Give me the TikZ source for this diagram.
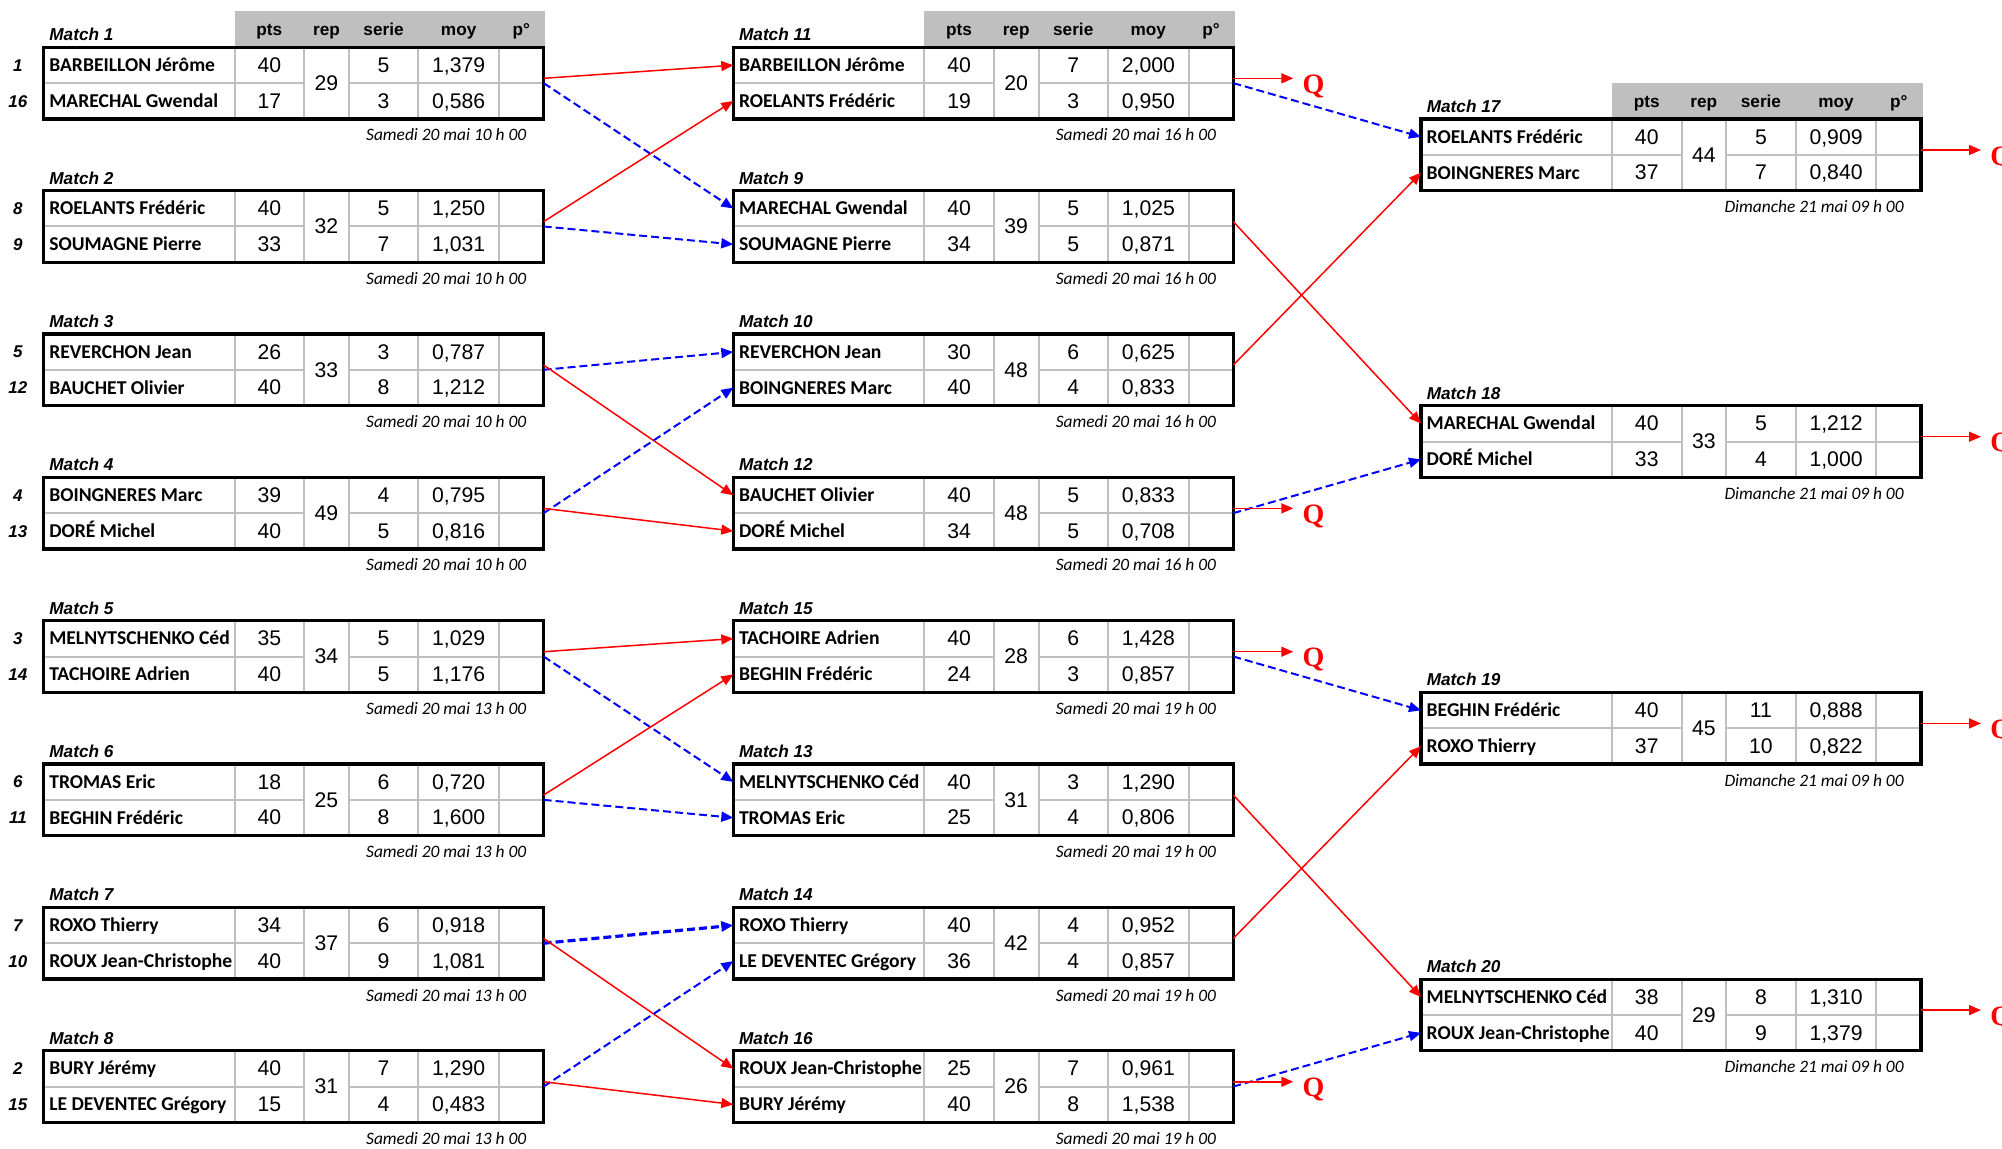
\documentclass[tikz,border=0pt]{standalone}
\usepackage{fontspec}
\setmainfont{Liberation Sans}
\newfontfamily\namefont{Carlito}
\newfontfamily\qfont{Liberation Serif}
\usetikzlibrary{arrows.meta,positioning}

\definecolor{gridgrey}{HTML}{BFBFBF}

\tikzset{
	box/.style={line width=1.6pt},
	grid/.style={gridgrey, line width=1pt},
	cell/.style={anchor=base, inner sep=0pt, font=\fontsize{10.6}{12}\selectfont},
	namecell/.style={anchor=base west, inner sep=0pt, font=\namefont\bfseries\fontsize{9.8}{12}\selectfont},
	headlabel/.style={anchor=base, inner sep=0pt, font=\bfseries\fontsize{8.6}{10}\selectfont},
	matchlabel/.style={anchor=base west, inner sep=0pt, font=\bfseries\itshape\fontsize{8.6}{10}\selectfont},
	seed/.style={anchor=base, inner sep=0pt, font=\bfseries\itshape\fontsize{8.5}{10}\selectfont},
	datelabel/.style={anchor=base east, inner sep=0pt, font=\namefont\itshape\fontsize{8.7}{10}\selectfont},
	qmark/.style={anchor=west, inner sep=1pt, text=red, font=\qfont\bfseries\fontsize{14}{16}\selectfont},
	win/.style={red, line width=0.75pt, -{Triangle[length=6pt,width=5pt]}},
	lose/.style={blue, line width=1pt, dash pattern=on 4pt off 2pt, -{Triangle[length=6pt,width=5pt]}},
}

% one match table: name, x, y (top), number, rep, date
\newcommand{\match}[6]{%
	\begin{scope}[shift={(#2,#3)}]
		\draw[grid] (191,0) -- (191,71.6) (260.5,0) -- (260.5,71.6) (305.2,0) -- (305.2,71.6)
			(374.7,0) -- (374.7,71.6) (455.4,0) -- (455.4,71.6);
		\draw[grid] (0,35.8) -- (260.5,35.8) (305.2,35.8) -- (500,35.8);
		\draw[box] (0,0) rectangle (500,71.6);
		\node[matchlabel] (#1-lab) at (5.4,-6.5) {Match #4};
		\node[datelabel] (#1-date) at (483,93.6) {#6};
		\node[cell] (#1-rep) at (282.85,43) {#5};
		\coordinate (#1-a) at (0,17.9);
		\coordinate (#1-b) at (0,53.7);
		\coordinate (#1-out) at (500,35.8);
		\coordinate (#1-win) at (500,31);
	\end{scope}}

% one player row: match, row (a/b), name, pts, serie, moy
\newcommand{\player}[6]{%
	\begin{scope}[shift={(#1-#2)}]
		\node[namecell] (#1-#2-name) at (5.3,6.3) {#3};
		\node[cell] (#1-#2-pts) at (225.75,7.2) {#4};
		\node[cell] (#1-#2-serie) at (339.95,7.2) {#5};
		\node[cell] (#1-#2-moy) at (415.05,7.2) {#6};
	\end{scope}}

\begin{document}
\begin{tikzpicture}[x=0.5pt, y=-0.5pt]
	\useasboundingbox (0,0) rectangle (2002,1148);

	% column heads
	\foreach \hx/\hy/\hn in {43.6/47.3/a, 733.3/47.3/b, 1421/119/c} {
		\fill[gridgrey] (\hx+191,\hy-36) rectangle (\hx+501.5,\hy);
		\node[headlabel] (head\hn-pts) at (\hx+225.75,\hy-12) {pts};
		\node[headlabel] (head\hn-rep) at (\hx+282.85,\hy-12) {rep};
		\node[headlabel] (head\hn-serie) at (\hx+339.95,\hy-12) {serie};
		\node[headlabel] (head\hn-moy) at (\hx+415.05,\hy-12) {moy};
		\node[headlabel] (head\hn-p) at (\hx+477.7,\hy-12) {p°};
	}

	% first round
	\match{m1}{43.6}{47.3}{1}{29}{Samedi 20 mai 10 h 00}
	\player{m1}{a}{BARBEILLON Jérôme}{40}{5}{1,379}
	\player{m1}{b}{MARECHAL Gwendal}{17}{3}{0,586}
	\match{m2}{43.6}{190.65}{2}{32}{Samedi 20 mai 10 h 00}
	\player{m2}{a}{ROELANTS Frédéric}{40}{5}{1,250}
	\player{m2}{b}{SOUMAGNE Pierre}{33}{7}{1,031}
	\match{m3}{43.6}{334}{3}{33}{Samedi 20 mai 10 h 00}
	\player{m3}{a}{REVERCHON Jean}{26}{3}{0,787}
	\player{m3}{b}{BAUCHET Olivier}{40}{8}{1,212}
	\match{m4}{43.6}{477.35}{4}{49}{Samedi 20 mai 10 h 00}
	\player{m4}{a}{BOINGNERES Marc}{39}{4}{0,795}
	\player{m4}{b}{DORÉ Michel}{40}{5}{0,816}
	\match{m5}{43.6}{620.7}{5}{34}{Samedi 20 mai 13 h 00}
	\player{m5}{a}{MELNYTSCHENKO Céd}{35}{5}{1,029}
	\player{m5}{b}{TACHOIRE Adrien}{40}{5}{1,176}
	\match{m6}{43.6}{764.05}{6}{25}{Samedi 20 mai 13 h 00}
	\player{m6}{a}{TROMAS Eric}{18}{6}{0,720}
	\player{m6}{b}{BEGHIN Frédéric}{40}{8}{1,600}
	\match{m7}{43.6}{907.4}{7}{37}{Samedi 20 mai 13 h 00}
	\player{m7}{a}{ROXO Thierry}{34}{6}{0,918}
	\player{m7}{b}{ROUX Jean-Christophe}{40}{9}{1,081}
	\match{m8}{43.6}{1050.75}{8}{31}{Samedi 20 mai 13 h 00}
	\player{m8}{a}{BURY Jérémy}{40}{7}{1,290}
	\player{m8}{b}{LE DEVENTEC Grégory}{15}{4}{0,483}

	% seeds
	\foreach \k/\s/\t in {1/1/16, 2/8/9, 3/5/12, 4/4/13, 5/3/14, 6/6/11, 7/7/10, 8/2/15} {
		\node[seed] (seed\s) at (17.9,{47.3+143.35*(\k-1)+23.9}) {\s};
		\node[seed] (seed\t) at (17.9,{47.3+143.35*(\k-1)+59.7}) {\t};
	}

	% second round
	\match{m11}{733.3}{47.3}{11}{20}{Samedi 20 mai 16 h 00}
	\player{m11}{a}{BARBEILLON Jérôme}{40}{7}{2,000}
	\player{m11}{b}{ROELANTS Frédéric}{19}{3}{0,950}
	\match{m9}{733.3}{190.65}{9}{39}{Samedi 20 mai 16 h 00}
	\player{m9}{a}{MARECHAL Gwendal}{40}{5}{1,025}
	\player{m9}{b}{SOUMAGNE Pierre}{34}{5}{0,871}
	\match{m10}{733.3}{334}{10}{48}{Samedi 20 mai 16 h 00}
	\player{m10}{a}{REVERCHON Jean}{30}{6}{0,625}
	\player{m10}{b}{BOINGNERES Marc}{40}{4}{0,833}
	\match{m12}{733.3}{477.35}{12}{48}{Samedi 20 mai 16 h 00}
	\player{m12}{a}{BAUCHET Olivier}{40}{5}{0,833}
	\player{m12}{b}{DORÉ Michel}{34}{5}{0,708}
	\match{m15}{733.3}{620.7}{15}{28}{Samedi 20 mai 19 h 00}
	\player{m15}{a}{TACHOIRE Adrien}{40}{6}{1,428}
	\player{m15}{b}{BEGHIN Frédéric}{24}{3}{0,857}
	\match{m13}{733.3}{764.05}{13}{31}{Samedi 20 mai 19 h 00}
	\player{m13}{a}{MELNYTSCHENKO Céd}{40}{3}{1,290}
	\player{m13}{b}{TROMAS Eric}{25}{4}{0,806}
	\match{m14}{733.3}{907.4}{14}{42}{Samedi 20 mai 19 h 00}
	\player{m14}{a}{ROXO Thierry}{40}{4}{0,952}
	\player{m14}{b}{LE DEVENTEC Grégory}{36}{4}{0,857}
	\match{m16}{733.3}{1050.75}{16}{26}{Samedi 20 mai 19 h 00}
	\player{m16}{a}{ROUX Jean-Christophe}{25}{7}{0,961}
	\player{m16}{b}{BURY Jérémy}{40}{8}{1,538}

	% third round
	\match{m17}{1421}{119}{17}{44}{Dimanche 21 mai 09 h 00}
	\player{m17}{a}{ROELANTS Frédéric}{40}{5}{0,909}
	\player{m17}{b}{BOINGNERES Marc}{37}{7}{0,840}
	\match{m18}{1421}{405.7}{18}{33}{Dimanche 21 mai 09 h 00}
	\player{m18}{a}{MARECHAL Gwendal}{40}{5}{1,212}
	\player{m18}{b}{DORÉ Michel}{33}{4}{1,000}
	\match{m19}{1421}{692.4}{19}{45}{Dimanche 21 mai 09 h 00}
	\player{m19}{a}{BEGHIN Frédéric}{40}{11}{0,888}
	\player{m19}{b}{ROXO Thierry}{37}{10}{0,822}
	\match{m20}{1421}{979.1}{20}{29}{Dimanche 21 mai 09 h 00}
	\player{m20}{a}{MELNYTSCHENKO Céd}{38}{8}{1,310}
	\player{m20}{b}{ROUX Jean-Christophe}{40}{9}{1,379}

	% winners and losers, round 1
	\draw[win] (m1-win) -- (m11-a);
	\draw[lose] (m1-out) -- (m9-a);
	\draw[win] (m2-win) -- (m11-b);
	\draw[lose] (m2-out) -- (m9-b);
	\draw[lose] (m3-out) -- (m10-a);
	\draw[win] (m3-win) -- (m12-a);
	\draw[lose] (m4-out) -- (m10-b);
	\draw[win] (m4-win) -- (m12-b);
	\draw[win] (m5-win) -- (m15-a);
	\draw[lose] (m5-out) -- (m13-a);
	\draw[win] (m6-win) -- (m15-b);
	\draw[lose] (m6-out) -- (m13-b);
	\draw[lose, line width=1.6pt] (m7-out) -- (m14-a);
	\draw[win] (m7-win) -- (m16-a);
	\draw[lose] (m8-out) -- (m14-b);
	\draw[win] (m8-win) -- (m16-b);

	% round 2
	\draw[lose] (m11-out) -- (m17-a);
	\draw[win] (m9-win) -- (m18-a);
	\draw[win] (m10-win) -- (m17-b);
	\draw[lose] (m12-out) -- (m18-b);
	\draw[lose] (m15-out) -- (m19-a);
	\draw[win] (m13-win) -- (m20-a);
	\draw[win] (m14-win) -- (m19-b);
	\draw[lose] (m16-out) -- (m20-b);

	% qualified
	\foreach \m in {m11,m12,m15,m16,m17,m18,m19,m20} {
		\draw[win] (\m-win) -- ++(30pt,0) coordinate (\m-t);
		\node[qmark, right=3.5pt of \m-t, yshift=-4pt] (\m-q) {Q};
	}

\end{tikzpicture}
\end{document}
